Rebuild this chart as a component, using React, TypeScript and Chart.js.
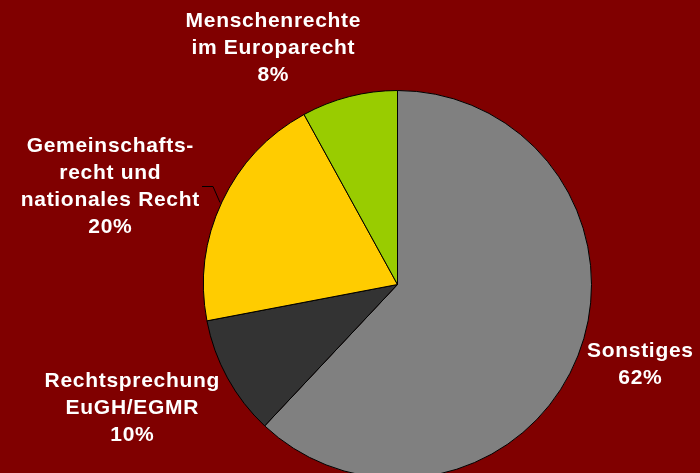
import React, { useEffect, useRef } from "react";
import { Chart, registerables } from "chart.js";

Chart.register(...registerables);

const categories = ["Sonstiges", "Rechtsprechung EuGH/EGMR", "Gemeinschaftsrecht und nationales Recht", "Menschenrechte im Europarecht"];
const shares = [62, 10, 20, 8];
const sliceColors = ["#808080", "#333333", "#FFCC00", "#99CC00"];
const labelLines = [
  ["Sonstiges", "62%"],
  ["Rechtsprechung", "EuGH/EGMR", "10%"],
  ["Gemeinschafts-", "recht und", "nationales Recht", "20%"],
  ["Menschenrechte", "im Europarecht", "8%"],
];
// label layout: center x, first baseline y
const labelAnchors = [
  [640, 357],
  [132, 387],
  [110, 152],
  [273, 27],
];
const leader = [[202, 186], [213, 186], [220, 202]];

const labelPlugin = {
  id: "labels",
  afterDraw(chart: any) {
    const ctx = chart.ctx;
    ctx.save();
    ctx.fillStyle = "#FFFFFF";
    ctx.font = "bold 21px 'Liberation Sans', Arial, sans-serif";
    ctx.textAlign = "center";
    ctx.textBaseline = "alphabetic";
    try {
      (ctx as any).letterSpacing = "0.7px";
    } catch (e) {}
    labelLines.forEach((lines, i) => {
      const [x, y] = labelAnchors[i];
      lines.forEach((t, j) => ctx.fillText(t, x + 0.35, y + j * 27));
    });
    ctx.strokeStyle = "#000000";
    ctx.lineWidth = 1;
    ctx.beginPath();
    leader.forEach(([x, y], k) => (k === 0 ? ctx.moveTo(x, y + 0.5) : ctx.lineTo(x, y + 0.5)));
    ctx.stroke();
    ctx.restore();
  },
};

export default function App() {
  const ref = useRef<HTMLCanvasElement | null>(null);
  useEffect(() => {
    if (!ref.current) return;
    const chart = new Chart(ref.current, {
      type: "pie",
      data: {
        labels: categories,
        datasets: [
          {
            data: shares,
            backgroundColor: sliceColors,
            borderColor: "#000000",
            borderWidth: 1,
          },
        ],
      },
      options: {
        responsive: false,
        animation: false,
        layout: { padding: { top: 90, bottom: 11, left: 200, right: 105 } },
        plugins: { legend: { display: false }, tooltip: { enabled: false } },
      },
      plugins: [labelPlugin],
    });
    return () => chart.destroy();
  }, []);
  return (
    <div style={{ position: "fixed", left: 0, top: 0, width: 700, height: 473, overflow: "hidden", background: "#800000" }}>
      <canvas ref={ref} width={700} height={490} style={{ display: "block", width: 700, height: 490 }} />
    </div>
  );
}
